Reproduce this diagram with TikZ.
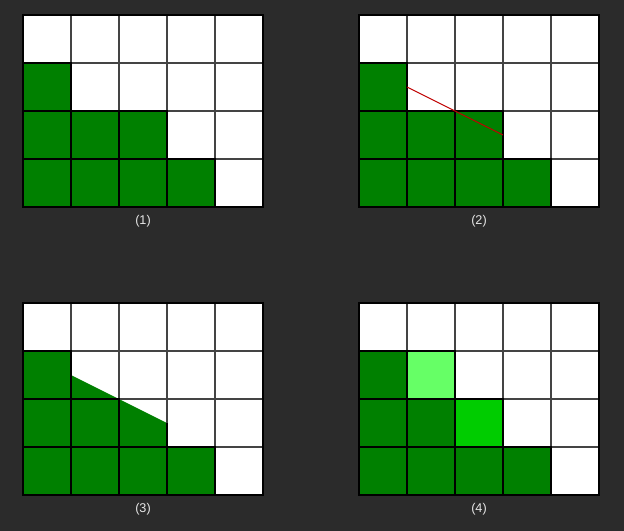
\documentclass[tikz,border=0pt]{standalone}
\usepackage{fontspec}
\setmainfont{Liberation Sans}
\definecolor{bg}{HTML}{2B2B2B}
\definecolor{gr}{HTML}{008000}
\definecolor{lgr}{HTML}{66FF66}
\definecolor{mgr}{HTML}{00CC00}
\definecolor{gline}{HTML}{444444}
\definecolor{lab}{HTML}{E6E6E6}
\definecolor{redl}{HTML}{C00000}
\begin{document}
\begin{tikzpicture}[x=0.75pt,y=-0.75pt,
  gridline/.style={draw=gline,line width=1.2pt},
  cellborder/.style={draw=black,line width=1.2pt},
  caption/.style={text=lab,font=\fontsize{9.5}{11}\selectfont,inner sep=0pt}]
\fill[bg] (0,0) rectangle (624,531);
\useasboundingbox (0,0) rectangle (624,531);
% common grid drawing macro
\newcommand\mygridlines{%
  \foreach \i in {1,...,4} \draw[gridline] (48*\i,0) -- (48*\i,192);
  \foreach \j in {1,2,3} \draw[gridline] (0,48*\j) -- (240,48*\j);}
% ---------- grid 1 ----------
\begin{scope}[shift={(23,15)}]
  \fill[white] (0,0) rectangle (240,192);
  \foreach \c/\r in {0/1,0/2,1/2,2/2,0/3,1/3,2/3,3/3}
    \fill[gr] (48*\c,48*\r) rectangle +(48,48);
  \mygridlines
  \foreach \c/\r in {0/1,0/2,1/2,2/2,0/3,1/3,2/3,3/3}
    \draw[cellborder] (48*\c,48*\r) rectangle +(48,48);
  \draw[cellborder] (0,0) rectangle (240,192);
\end{scope}
% ---------- grid 2 ----------
\begin{scope}[shift={(359,15)}]
  \fill[white] (0,0) rectangle (240,192);
  \foreach \c/\r in {0/1,0/2,1/2,2/2,0/3,1/3,2/3,3/3}
    \fill[gr] (48*\c,48*\r) rectangle +(48,48);
  \mygridlines
  \foreach \c/\r in {0/1,0/2,1/2,2/2,0/3,1/3,2/3,3/3}
    \draw[cellborder] (48*\c,48*\r) rectangle +(48,48);
  \draw[cellborder] (0,0) rectangle (240,192);
  \coordinate (r1) at (48,72);
  \coordinate (r2) at (144,120);
  \draw[redl,line width=0.8pt] (r1) -- (r2);
\end{scope}
% ---------- grid 3 ----------
\begin{scope}[shift={(23,303)}]
  \fill[white] (0,0) rectangle (240,192);
  \foreach \c/\r in {0/1,0/2,1/2,0/3,1/3,2/3,3/3}
    \fill[gr] (48*\c,48*\r) rectangle +(48,48);
  \fill[gr] (48,72) -- (144,120) -- (144,144) -- (48,144) -- cycle;
  \mygridlines
  \foreach \c/\r in {0/1,0/2,1/2,0/3,1/3,2/3,3/3}
    \draw[cellborder] (48*\c,48*\r) rectangle +(48,48);
  \draw[cellborder] (144,120) -- (144,144);
  \draw[cellborder] (0,0) rectangle (240,192);
\end{scope}
% ---------- grid 4 ----------
\begin{scope}[shift={(359,303)}]
  \fill[white] (0,0) rectangle (240,192);
  \foreach \c/\r in {0/1,0/2,1/2,0/3,1/3,2/3,3/3}
    \fill[gr] (48*\c,48*\r) rectangle +(48,48);
  \fill[lgr] (48,48) rectangle +(48,48);
  \fill[mgr] (96,96) rectangle +(48,48);
  \mygridlines
  \foreach \c/\r in {0/1,0/2,1/2,0/3,1/3,2/3,3/3,1/1,2/2}
    \draw[cellborder] (48*\c,48*\r) rectangle +(48,48);
  \draw[cellborder] (0,0) rectangle (240,192);
\end{scope}
% ---------- captions ----------
\node[caption] (c1) at (143,221) {(1)};
\node[caption] (c2) at (479,221) {(2)};
\node[caption] (c3) at (143,509) {(3)};
\node[caption] (c4) at (479,509) {(4)};
\end{tikzpicture}
\end{document}
